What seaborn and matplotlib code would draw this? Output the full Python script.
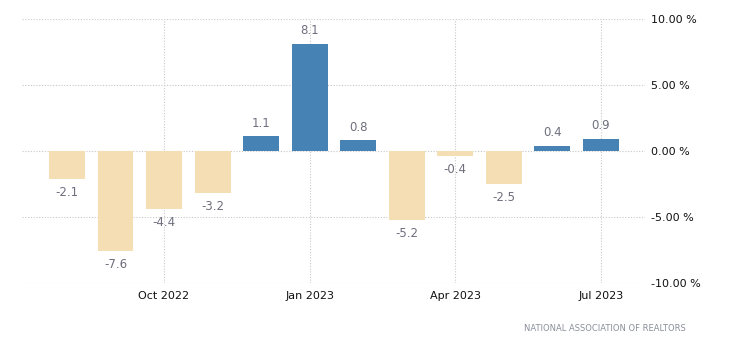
import pandas as pd
import matplotlib
matplotlib.use("Agg")
import matplotlib.pyplot as plt
import seaborn as sns

months = ["Aug 2022", "Sep 2022", "Oct 2022", "Nov 2022", "Dec 2022", "Jan 2023",
          "Feb 2023", "Mar 2023", "Apr 2023", "May 2023", "Jun 2023", "Jul 2023"]
values = [-2.1, -7.6, -4.4, -3.2, 1.1, 8.1, 0.8, -5.2, -0.4, -2.5, 0.4, 0.9]
tick_months = ["Oct 2022", "Jan 2023", "Apr 2023", "Jul 2023"]
y_ticks = [-10, -5, 0, 5, 10]

df = pd.DataFrame({"month": months, "value": values})
df["sign"] = ["pos" if v >= 0 else "neg" for v in values]

sns.set_style("white")
plt.rcParams["font.family"] = ["DejaVu Sans"]

fig = plt.figure(figsize=(7.3, 3.5), dpi=100)
ax = fig.add_axes([0.030, 0.191, 0.854, 0.755])

sns.barplot(data=df, x="month", y="value", hue="sign",
            palette={"pos": "#4682B4", "neg": "#F5DEB3"},
            width=0.74, dodge=False, legend=False, ax=ax, saturation=1,
            linewidth=0, edgecolor="none")

# value labels
for i, v in enumerate(values):
    if v >= 0:
        ax.annotate(f"{v:.1f}", (i, v), xytext=(0, 5), textcoords="offset points",
                    ha="center", va="bottom", fontsize=8.5, color="#6e6e7e")
    else:
        ax.annotate(f"{v:.1f}", (i, v), xytext=(0, -5), textcoords="offset points",
                    ha="center", va="top", fontsize=8.5, color="#6e6e7e")

ax.set_ylim(-10, 10)
ax.set_xlim(-0.93, 11.92)
ax.set_yticks(y_ticks)
ax.set_yticklabels([f"{t:.2f} %" for t in y_ticks])
ax.yaxis.tick_right()
ax.set_xticks([months.index(m) for m in tick_months])
ax.set_xticklabels(tick_months)
ax.tick_params(axis="both", length=0, labelsize=8, colors="#111111")
ax.tick_params(axis="y", pad=4)
ax.tick_params(axis="x", pad=6)
ax.set_xlabel("")
ax.set_ylabel("")

ax.grid(True, linestyle=(0, (1, 1.5)), color="#c8c8c8", linewidth=0.8)
ax.set_axisbelow(True)
for s in ax.spines.values():
    s.set_visible(False)

fig.text(0.94, 0.062, "NATIONAL ASSOCIATION OF REALTORS", ha="right", va="center",
         fontsize=6, color="#8a8f9a")

fig.savefig("out.png", dpi=100)
